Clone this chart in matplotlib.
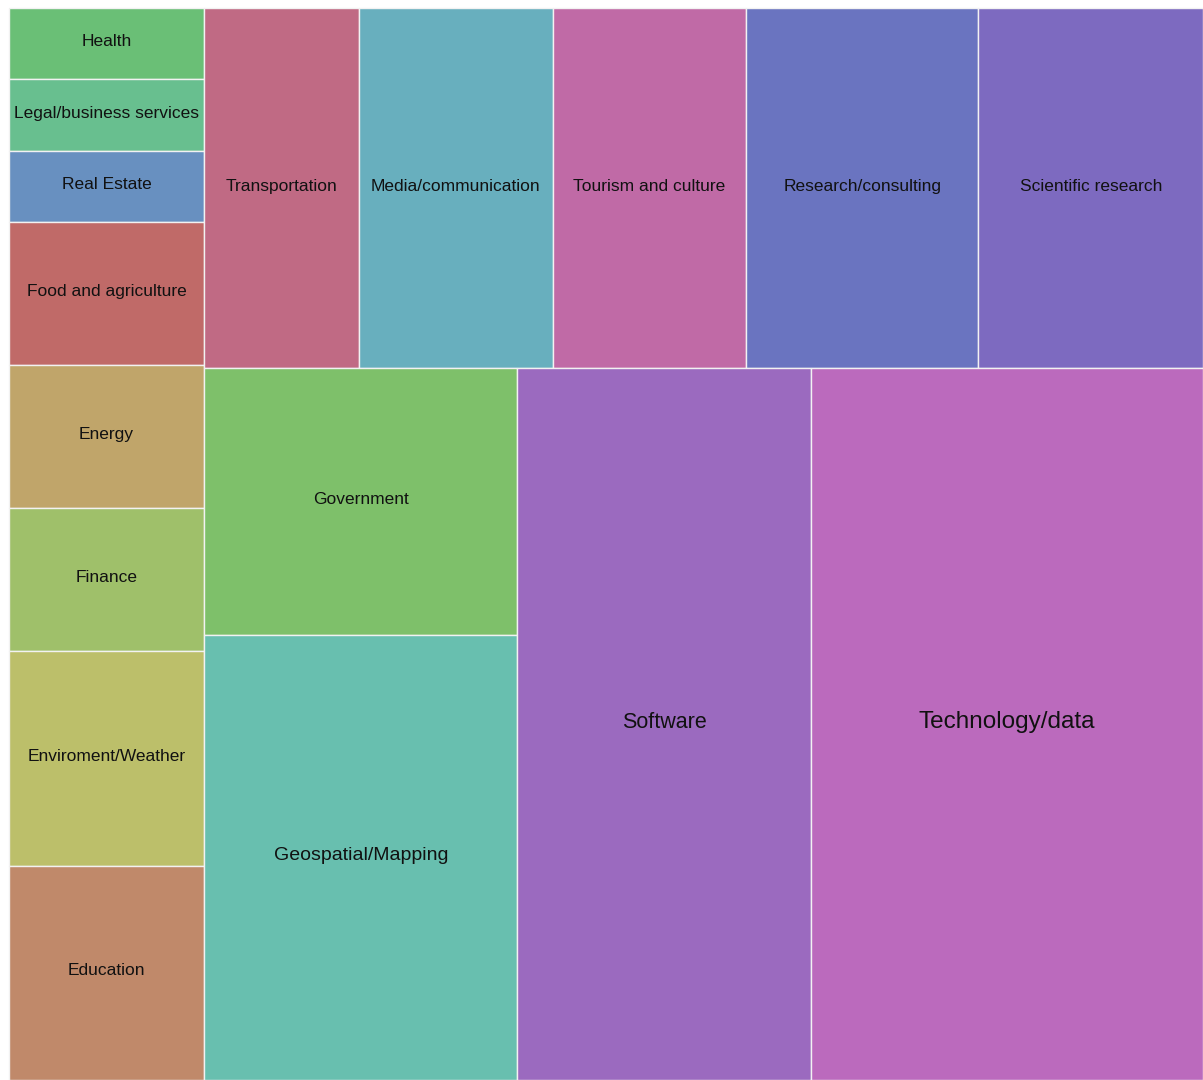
import matplotlib.pyplot as plt
from matplotlib.patches import Rectangle

# data (ascending, as the treemap was fed)
labels = ["Health", "Legal/business services", "Real Estate", "Food and agriculture",
          "Energy", "Finance", "Enviroment/Weather", "Education",
          "Transportation", "Media/communication", "Tourism and culture",
          "Research/consulting", "Scientific research", "Government",
          "Geospatial/Mapping", "Software", "Technology/data"]
values = [1, 1, 1, 2, 2, 2, 3, 3, 4, 5, 5, 6, 5.8, 6, 10, 15, 20]
colors = ["#6abf76", "#68bf8f", "#6890c0", "#c06a68", "#c0a56a", "#9fc06a",
          "#bcbf6a", "#c0896a", "#c06a84", "#68afbe", "#c06aa6", "#6a74c0",
          "#7d6ac0", "#7ec06a", "#68bfaf", "#9b6abf", "#bb6abd"]

W, H = 1203, 1080
PHI = (1 + 5 ** 0.5) / 2


def squarify(vals, x0, y0, x1, y1, ratio=PHI):
    # same row logic as d3.treemapSquarify
    rects = []
    total = float(sum(vals))
    i0 = 0
    n = len(vals)
    while i0 < n:
        dx, dy = x1 - x0, y1 - y0
        i1 = i0 + 1
        s = vals[i0]
        vmin = vmax = s
        alpha = max(dy / dx, dx / dy) / (total * ratio)
        beta = s * s * alpha
        best = max(vmax / beta, beta / vmin)
        while i1 < n:
            v = vals[i1]
            s2 = s + v
            beta = s2 * s2 * alpha
            r = max(max(vmax, v) / beta, beta / min(vmin, v))
            if r > best:
                break
            s, best = s2, r
            vmin, vmax = min(vmin, v), max(vmax, v)
            i1 += 1
        row = vals[i0:i1]
        if dx < dy:
            # row across the top
            h = dy * s / total if i1 < n else dy
            cx = x0
            for v in row:
                w = dx * v / s
                rects.append((cx, y0, w, h))
                cx += w
            y0 += h
        else:
            # column on the left
            w = dx * s / total if i1 < n else dx
            cy = y0
            for v in row:
                h = dy * v / s
                rects.append((x0, cy, w, h))
                cy += h
            x0 += w
        total -= s
        i0 = i1
    return rects


rects = squarify(values, 9, 8, W, H)

big_font = {"Technology/data": 17.5, "Software": 15.5, "Geospatial/Mapping": 14}

fig = plt.figure(figsize=(W / 100, H / 100), dpi=100)
ax = fig.add_axes([0, 0, 1, 1])
ax.set_xlim(0, W)
ax.set_ylim(H, 0)
ax.axis("off")

for (x, y, w, h), lab, c in zip(rects, labels, colors):
    ax.add_patch(Rectangle((x, y), w, h, facecolor=c, edgecolor="#f2f2f2", linewidth=1))
    ax.text(x + w / 2, y + h / 2 - 2, lab, ha="center", va="center",
            fontsize=big_font.get(lab, 12.5), family="Liberation Sans", color="#111111")

fig.savefig("out.png", dpi=100)
